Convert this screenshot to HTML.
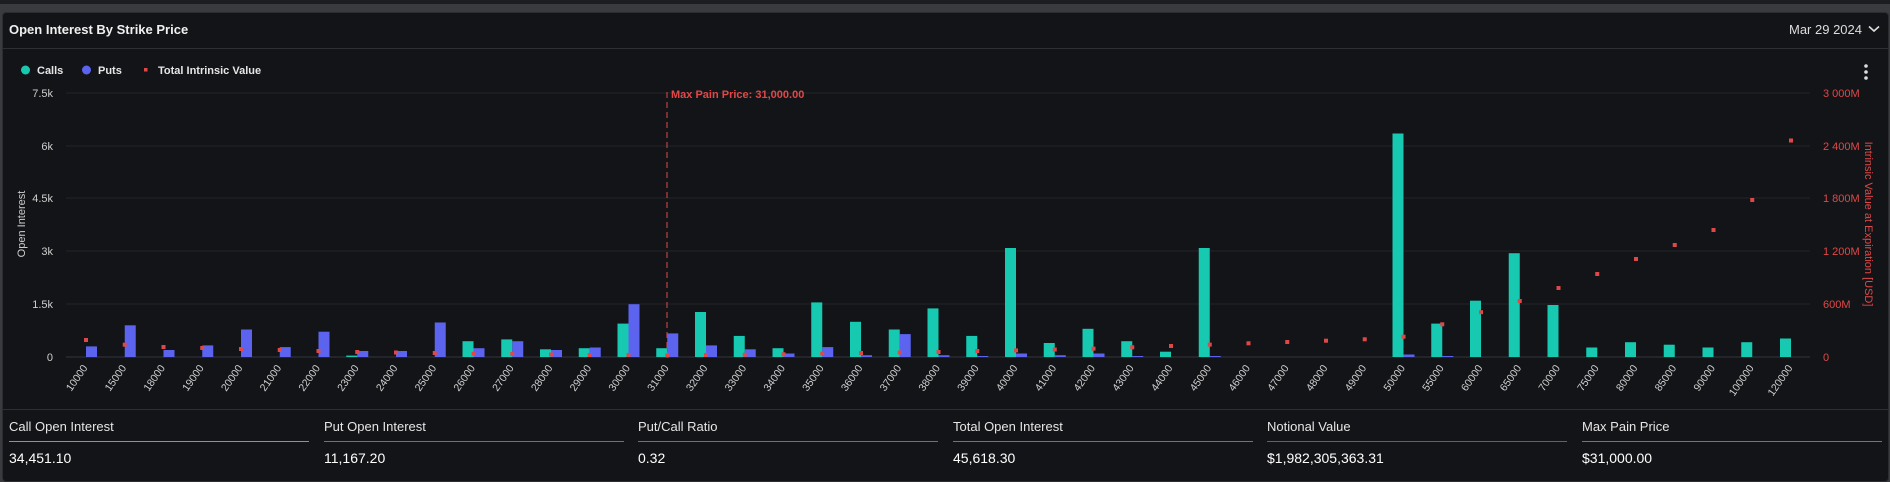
<!DOCTYPE html>
<html><head><meta charset="utf-8"><style>
*{margin:0;padding:0;box-sizing:border-box}
body{width:1890px;height:476px;background:#3a3b3e;overflow:hidden;font-family:"Liberation Sans",sans-serif;position:relative}
.top{position:absolute;left:0;top:0;width:1890px;height:4px;background:#1c1d20}
.panel{position:absolute;left:2px;top:12px;width:1887px;height:470px;background:#131417;border:1px solid #2c2d31;border-radius:4px}
.t{position:absolute;color:#e6e6e6;white-space:nowrap}
.ul{position:absolute;height:1px}
</style></head><body>
<div class="top"></div>
<div class="panel"></div>
<div class="t" style="left:9px;top:22px;font-size:13px;font-weight:bold;color:#f0f0f0">Open Interest By Strike Price</div>
<div class="t" style="left:1789px;top:22px;font-size:13px;color:#ddd">Mar 29 2024</div>
<svg style="position:absolute;left:1868px;top:25px" width="12" height="8"><path d="M1 1.5 L6 6 L11 1.5" stroke="#ddd" stroke-width="1.6" fill="none"/></svg>
<div style="position:absolute;left:3px;top:48px;width:1885px;height:1px;background:#2e2f33"></div>
<div style="position:absolute;left:3px;top:409px;width:1885px;height:1px;background:#2e2f33"></div>
<svg style="position:absolute;left:0;top:0" width="1890" height="476" font-family="Liberation Sans, sans-serif">
<circle cx="25.5" cy="70" r="4.5" fill="#17c9b0"/><text x="37" y="74" font-size="11" font-weight="bold" fill="#e6e6e6">Calls</text>
<circle cx="86.5" cy="70" r="4.5" fill="#5b63ef"/><text x="98" y="74" font-size="11" font-weight="bold" fill="#e6e6e6">Puts</text>
<rect x="144" y="68" width="3.5" height="3.5" fill="#e04848"/><text x="158" y="74" font-size="11" font-weight="bold" fill="#e6e6e6">Total Intrinsic Value</text>
<circle cx="1866" cy="66" r="1.8" fill="#ddd"/><circle cx="1866" cy="72" r="1.8" fill="#ddd"/><circle cx="1866" cy="78" r="1.8" fill="#ddd"/>
<g stroke="#23242a" stroke-width="1">
<line x1="66" y1="93" x2="1810" y2="93"/><line x1="66" y1="146" x2="1810" y2="146"/><line x1="66" y1="198" x2="1810" y2="198"/><line x1="66" y1="251" x2="1810" y2="251"/><line x1="66" y1="304" x2="1810" y2="304"/>
</g>
<line x1="66" y1="357" x2="1810" y2="357" stroke="#2a2b30" stroke-width="1.5"/>
<g font-size="11" fill="#cfcfcf" text-anchor="end">
<text x="53" y="97">7.5k</text><text x="53" y="150">6k</text><text x="53" y="202">4.5k</text><text x="53" y="255">3k</text><text x="53" y="308">1.5k</text><text x="53" y="361">0</text>
</g>
<g font-size="11" fill="#e04848">
<text x="1823" y="97">3 000M</text><text x="1823" y="150">2 400M</text><text x="1823" y="202">1 800M</text><text x="1823" y="255">1 200M</text><text x="1823" y="308">600M</text><text x="1823" y="361">0</text>
</g>
<text transform="translate(25,224) rotate(-90)" font-size="11" fill="#cfcfcf" text-anchor="middle">Open Interest</text>
<text transform="translate(1865,224) rotate(90)" font-size="11" fill="#e04848" text-anchor="middle">Intrinsic Value at Expiration [USD]</text>
<line x1="667" y1="92" x2="667" y2="357" stroke="#e04848" stroke-width="1" stroke-dasharray="6,4"/>
<text x="671" y="98" font-size="11" font-weight="bold" fill="#e04848">Max Pain Price: 31,000.00</text>
<g fill="#5b63ef">
<rect x="86" y="346.4" width="11" height="10.6"/><rect x="124.75" y="325.3" width="11" height="31.7"/><rect x="163.5" y="350" width="11" height="7"/><rect x="202.25" y="345.4" width="11" height="11.6"/><rect x="241" y="329.5" width="11" height="27.5"/><rect x="279.75" y="347.1" width="11" height="9.9"/><rect x="318.5" y="331.7" width="11" height="25.3"/><rect x="357.25" y="351" width="11" height="6"/><rect x="396" y="351" width="11" height="6"/><rect x="434.75" y="322.5" width="11" height="34.5"/><rect x="473.5" y="348.2" width="11" height="8.8"/><rect x="512.25" y="341.2" width="11" height="15.8"/><rect x="551" y="350" width="11" height="7"/><rect x="589.75" y="347.5" width="11" height="9.5"/><rect x="628.5" y="304.2" width="11" height="52.8"/><rect x="667.25" y="333.4" width="11" height="23.6"/><rect x="706" y="345.4" width="11" height="11.6"/><rect x="744.75" y="349.3" width="11" height="7.7"/><rect x="783.5" y="353.5" width="11" height="3.5"/><rect x="822.25" y="347.1" width="11" height="9.9"/><rect x="861" y="355.2" width="11" height="1.8"/><rect x="899.75" y="334.1" width="11" height="22.9"/><rect x="938.5" y="355.2" width="11" height="1.8"/><rect x="977.25" y="356" width="11" height="1"/><rect x="1016" y="353.5" width="11" height="3.5"/><rect x="1054.75" y="355.2" width="11" height="1.8"/><rect x="1093.5" y="353.5" width="11" height="3.5"/><rect x="1132.25" y="356" width="11" height="1"/><rect x="1209.75" y="356" width="11" height="1"/><rect x="1403.5" y="354.5" width="11" height="2.5"/><rect x="1442.25" y="356" width="11" height="1"/>
</g>
<g fill="#17c9b0">
<rect x="346.25" y="355.6" width="11" height="1.4"/><rect x="462.5" y="341.2" width="11" height="15.8"/><rect x="501.25" y="339.4" width="11" height="17.6"/><rect x="540" y="349.3" width="11" height="7.7"/><rect x="578.75" y="348.2" width="11" height="8.8"/><rect x="617.5" y="323.6" width="11" height="33.4"/><rect x="656.25" y="348.2" width="11" height="8.8"/><rect x="695" y="312" width="11" height="45"/><rect x="733.75" y="335.9" width="11" height="21.1"/><rect x="772.5" y="348.2" width="11" height="8.8"/><rect x="811.25" y="302.4" width="11" height="54.6"/><rect x="850" y="321.8" width="11" height="35.2"/><rect x="888.75" y="329.5" width="11" height="27.5"/><rect x="927.5" y="308.4" width="11" height="48.6"/><rect x="966.25" y="335.9" width="11" height="21.1"/><rect x="1005" y="248" width="11" height="109"/><rect x="1043.75" y="343" width="11" height="14"/><rect x="1082.5" y="328.8" width="11" height="28.2"/><rect x="1121.25" y="341.2" width="11" height="15.8"/><rect x="1160" y="351.7" width="11" height="5.3"/><rect x="1198.75" y="248" width="11" height="109"/><rect x="1392.5" y="133.5" width="11" height="223.5"/><rect x="1431.25" y="323.6" width="11" height="33.4"/><rect x="1470" y="300.7" width="11" height="56.3"/><rect x="1508.75" y="253.2" width="11" height="103.8"/><rect x="1547.5" y="305" width="11" height="52"/><rect x="1586.25" y="347.5" width="11" height="9.5"/><rect x="1625" y="342.2" width="11" height="14.8"/><rect x="1663.75" y="344.7" width="11" height="12.3"/><rect x="1702.5" y="347.5" width="11" height="9.5"/><rect x="1741.25" y="342.2" width="11" height="14.8"/><rect x="1780" y="338.5" width="11" height="18.5"/>
</g>
<g fill="#e04848">
<rect x="84" y="338" width="4" height="4"/><rect x="122.75" y="342.7" width="4" height="4"/><rect x="161.5" y="345" width="4" height="4"/><rect x="200.25" y="346" width="4" height="4"/><rect x="239" y="347" width="4" height="4"/><rect x="277.75" y="348" width="4" height="4"/><rect x="316.5" y="349" width="4" height="4"/><rect x="355.25" y="350" width="4" height="4"/><rect x="394" y="350.5" width="4" height="4"/><rect x="432.75" y="351" width="4" height="4"/><rect x="471.5" y="351.7" width="4" height="4"/><rect x="510.25" y="352" width="4" height="4"/><rect x="549" y="352.5" width="4" height="4"/><rect x="587.75" y="353" width="4" height="4"/><rect x="626.5" y="353" width="4" height="4"/><rect x="665.25" y="353.5" width="4" height="4"/><rect x="704" y="353" width="4" height="4"/><rect x="742.75" y="352.8" width="4" height="4"/><rect x="781.5" y="352.3" width="4" height="4"/><rect x="820.25" y="351.6" width="4" height="4"/><rect x="859" y="351" width="4" height="4"/><rect x="897.75" y="350.5" width="4" height="4"/><rect x="936.5" y="350" width="4" height="4"/><rect x="975.25" y="349" width="4" height="4"/><rect x="1014" y="348.4" width="4" height="4"/><rect x="1052.75" y="347.5" width="4" height="4"/><rect x="1091.5" y="346.6" width="4" height="4"/><rect x="1130.25" y="345.3" width="4" height="4"/><rect x="1169" y="344" width="4" height="4"/><rect x="1207.75" y="342.6" width="4" height="4"/><rect x="1246.5" y="341.3" width="4" height="4"/><rect x="1285.25" y="340" width="4" height="4"/><rect x="1324" y="338.7" width="4" height="4"/><rect x="1362.75" y="337.3" width="4" height="4"/><rect x="1401.5" y="334.7" width="4" height="4"/><rect x="1440.25" y="322.3" width="4" height="4"/><rect x="1479" y="310.2" width="4" height="4"/><rect x="1517.75" y="299" width="4" height="4"/><rect x="1556.5" y="286" width="4" height="4"/><rect x="1595.25" y="272" width="4" height="4"/><rect x="1634" y="257" width="4" height="4"/><rect x="1672.75" y="243" width="4" height="4"/><rect x="1711.5" y="228" width="4" height="4"/><rect x="1750.25" y="198" width="4" height="4"/><rect x="1789" y="138.5" width="4" height="4"/>
</g>
<g font-size="10.5" fill="#cfcfcf" text-anchor="end">
<text transform="translate(88,368) rotate(-55)">10000</text>
<text transform="translate(126.75,368) rotate(-55)">15000</text>
<text transform="translate(165.5,368) rotate(-55)">18000</text>
<text transform="translate(204.25,368) rotate(-55)">19000</text>
<text transform="translate(243,368) rotate(-55)">20000</text>
<text transform="translate(281.75,368) rotate(-55)">21000</text>
<text transform="translate(320.5,368) rotate(-55)">22000</text>
<text transform="translate(359.25,368) rotate(-55)">23000</text>
<text transform="translate(398,368) rotate(-55)">24000</text>
<text transform="translate(436.75,368) rotate(-55)">25000</text>
<text transform="translate(475.5,368) rotate(-55)">26000</text>
<text transform="translate(514.25,368) rotate(-55)">27000</text>
<text transform="translate(553,368) rotate(-55)">28000</text>
<text transform="translate(591.75,368) rotate(-55)">29000</text>
<text transform="translate(630.5,368) rotate(-55)">30000</text>
<text transform="translate(669.25,368) rotate(-55)">31000</text>
<text transform="translate(708,368) rotate(-55)">32000</text>
<text transform="translate(746.75,368) rotate(-55)">33000</text>
<text transform="translate(785.5,368) rotate(-55)">34000</text>
<text transform="translate(824.25,368) rotate(-55)">35000</text>
<text transform="translate(863,368) rotate(-55)">36000</text>
<text transform="translate(901.75,368) rotate(-55)">37000</text>
<text transform="translate(940.5,368) rotate(-55)">38000</text>
<text transform="translate(979.25,368) rotate(-55)">39000</text>
<text transform="translate(1018,368) rotate(-55)">40000</text>
<text transform="translate(1056.75,368) rotate(-55)">41000</text>
<text transform="translate(1095.5,368) rotate(-55)">42000</text>
<text transform="translate(1134.25,368) rotate(-55)">43000</text>
<text transform="translate(1173,368) rotate(-55)">44000</text>
<text transform="translate(1211.75,368) rotate(-55)">45000</text>
<text transform="translate(1250.5,368) rotate(-55)">46000</text>
<text transform="translate(1289.25,368) rotate(-55)">47000</text>
<text transform="translate(1328,368) rotate(-55)">48000</text>
<text transform="translate(1366.75,368) rotate(-55)">49000</text>
<text transform="translate(1405.5,368) rotate(-55)">50000</text>
<text transform="translate(1444.25,368) rotate(-55)">55000</text>
<text transform="translate(1483,368) rotate(-55)">60000</text>
<text transform="translate(1521.75,368) rotate(-55)">65000</text>
<text transform="translate(1560.5,368) rotate(-55)">70000</text>
<text transform="translate(1599.25,368) rotate(-55)">75000</text>
<text transform="translate(1638,368) rotate(-55)">80000</text>
<text transform="translate(1676.75,368) rotate(-55)">85000</text>
<text transform="translate(1715.5,368) rotate(-55)">90000</text>
<text transform="translate(1754.25,368) rotate(-55)">100000</text>
<text transform="translate(1793,368) rotate(-55)">120000</text>
</g>
</svg>
<div class="t" style="left:9px;top:419px;font-size:13px">Call Open Interest</div>
<div class="ul" style="left:9px;top:441px;width:300px;background:#17c9b0"></div>
<div class="t" style="left:9px;top:450px;font-size:14px;color:#fff">34,451.10</div>
<div class="t" style="left:324px;top:419px;font-size:13px">Put Open Interest</div>
<div class="ul" style="left:324px;top:441px;width:300px;background:#5b63ef"></div>
<div class="t" style="left:324px;top:450px;font-size:14px;color:#fff">11,167.20</div>
<div class="t" style="left:638px;top:419px;font-size:13px">Put/Call Ratio</div>
<div class="ul" style="left:638px;top:441px;width:300px;background:#5b63ef"></div>
<div class="t" style="left:638px;top:450px;font-size:14px;color:#fff">0.32</div>
<div class="t" style="left:953px;top:419px;font-size:13px">Total Open Interest</div>
<div class="ul" style="left:953px;top:441px;width:300px;background:#6a6fa8"></div>
<div class="t" style="left:953px;top:450px;font-size:14px;color:#fff">45,618.30</div>
<div class="t" style="left:1267px;top:419px;font-size:13px">Notional Value</div>
<div class="ul" style="left:1267px;top:441px;width:300px;background:#5c6470"></div>
<div class="t" style="left:1267px;top:450px;font-size:14px;color:#fff">$1,982,305,363.31</div>
<div class="t" style="left:1582px;top:419px;font-size:13px">Max Pain Price</div>
<div class="ul" style="left:1582px;top:441px;width:300px;background:#e04848"></div>
<div class="t" style="left:1582px;top:450px;font-size:14px;color:#fff">$31,000.00</div>
</body></html>
